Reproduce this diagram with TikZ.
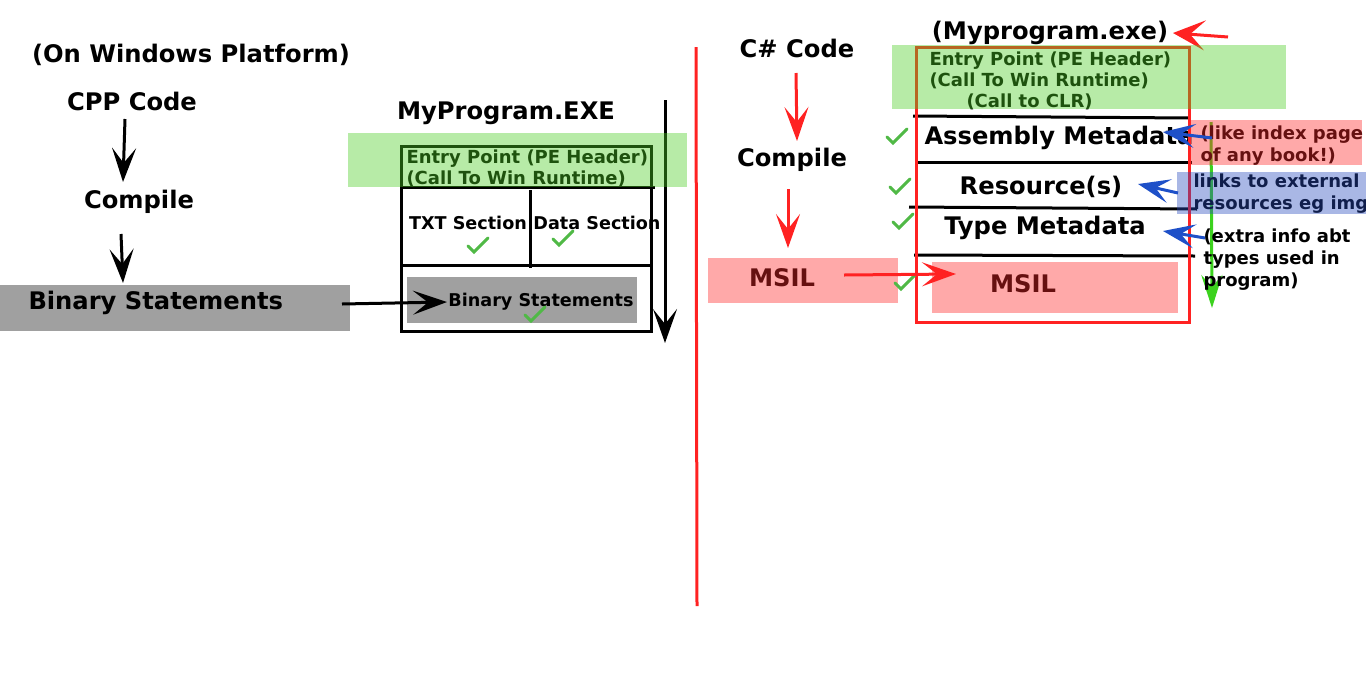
\documentclass[tikz,border=0pt]{standalone}
\usepackage{fontspec}
\setmainfont{DejaVu Sans}
\usepackage{tikz}
\usetikzlibrary{arrows.meta}

\definecolor{divred}{RGB}{255,34,34}
\definecolor{okgreen}{RGB}{80,185,70}
\definecolor{bandgreen}{RGB}{75,205,35}
\definecolor{bandred}{RGB}{255,40,40}
\definecolor{bandblue}{RGB}{40,75,190}
\definecolor{binfill}{RGB}{160,160,160}
\definecolor{arrblue}{RGB}{30,80,200}
\definecolor{arrgreen}{RGB}{60,210,30}

\tikzset{
  okmark/.pic={\draw[okgreen, line width=1.5pt, line cap=round] (-10,0) -- (-4,6) -- (10,-8);},
  barbed/.style={-{Stealth[length=17pt, width=12pt, inset=7.5pt]}},
}

\begin{document}
\begin{tikzpicture}[x=0.5pt, y=-0.5pt, line width=1.5pt,
  every node/.style={inner sep=0pt, font=\bfseries\fontsize{12.1}{14.5}\selectfont},
  smalltxt/.style={font=\bfseries\fontsize{9}{10.5}\selectfont, align=left},
  notetxt/.style={font=\bfseries\fontsize{9}{11}\selectfont, align=left},
  secttxt/.style={font=\bfseries\fontsize{8.8}{10}\selectfont},
  greenband/.style={fill=bandgreen, fill opacity=0.4},
  redband/.style={fill=bandred, fill opacity=0.4},
  blueband/.style={fill=bandblue, fill opacity=0.4},
  redarr/.style={barbed, draw=divred},
  bluearr/.style={-{Stealth[length=16pt, width=12pt, inset=7pt]}, draw=arrblue},
  greenarr/.style={-{Stealth[length=16.5pt, width=10.5pt, inset=6pt]}, draw=arrgreen}]
\useasboundingbox (0,0) rectangle (1366,697);

% native code side
\coordinate (A) at (125,119);
\coordinate (B) at (123,182);
\coordinate (C) at (121,234);
\coordinate (D) at (123,283);
\coordinate (E) at (342,304);
\coordinate (F) at (447,302);
\coordinate (G) at (665,100);
\coordinate (H) at (665,343);

\node (win) at (191,55) {(On Windows Platform)};
\node (cpp) at (132,101) {CPP Code};
\node (cmpL) at (139,202) {Compile};
\draw[barbed] (A) -- (B);
\draw[barbed] (C) -- (D);
\fill[binfill] (0,285) rectangle (350,331);
\node[anchor=west] (binL) at (27,303) {Binary Statements};

\node (exeL) at (506,113) {MyProgram.EXE};
\fill[binfill] (407,277) rectangle (637,323);
\draw (401,146) rectangle (651,331);
\draw (401,187) -- (655,187);
\draw (401,265) -- (651,265);
\draw (530,190) -- (530,268);
\node[smalltxt, anchor=west] (entL) at (405,168) {Entry Point (PE Header)\\(Call To Win Runtime)};
\node[secttxt] (txt) at (468,223) {TXT Section};
\node[secttxt] (dat) at (597,223) {Data Section};
\node[secttxt] (binS) at (541,302) {Binary Statements};
\pic at (478,246) {okmark};
\pic at (563,239) {okmark};
\pic at (535,315) {okmark};
\draw[barbed] (E) -- (F);
\draw[barbed] (G) -- (H);
\fill[greenband] (348,133) rectangle (687,187);

\draw[divred] (696,47) -- (697,606);

% managed code side
\coordinate (P) at (796,73);
\coordinate (Q) at (797,141);
\coordinate (R) at (788,189);
\coordinate (S) at (788,248);
\coordinate (T) at (844,275);
\coordinate (U) at (956,274);
\coordinate (V) at (1228,37);
\coordinate (W) at (1173,33);
\coordinate (X) at (1211,122);
\coordinate (Y) at (1212,308);

\node (cs) at (797,48) {C\# Code};
\node (cmpR) at (792,160) {Compile};
\draw[redarr] (P) -- (Q);
\draw[redarr] (R) -- (S);
\node (msilL) at (782,278) {MSIL};
\fill[redband] (708,258) rectangle (898,303);

\node (exeR) at (1050,33) {(Myprogram.exe)};
\node[anchor=west] (asm) at (923,138) {Assembly Metadata};
\node (res) at (1041,187) {Resource(s)};
\node (typ) at (1045,228) {Type Metadata};
\node (msilR) at (1023,284) {MSIL};
\fill[redband] (932,262) rectangle (1178,313);
\draw (913,116) -- (1190,118);
\draw (916,162) -- (1192,162);
\draw (909,207) -- (1197,209);
\draw (914,255) -- (1195,256);
\draw[divred] (916,47) rectangle (1189,322);
\node[smalltxt, anchor=west] (entR) at (928,81) {Entry Point (PE Header)\\(Call To Win Runtime)\\\hspace*{18.5pt}(Call to CLR)};
\pic at (897,137) {okmark};
\pic at (900,187) {okmark};
\pic at (903,222) {okmark};
\pic at (905,283) {okmark};
\draw[redarr] (T) -- (U);
\draw[-{Stealth[length=16pt, width=15pt, inset=7.5pt]}, divred] (V) -- (W);
\fill[greenband] (892,45) rectangle (1286,109);

\draw[greenarr] (X) -- (Y);
\node[notetxt, anchor=west] (idx) at (1199,146) {(like index page\\of any book!)};
\node[notetxt, anchor=west] (lnk) at (1192,194) {links to external\\resources eg img};
\node[notetxt, anchor=west] (xtr) at (1202,260) {(extra info abt\\types used in\\program)};
\fill[redband] (1190,120) rectangle (1362,165);
\fill[blueband] (1177,172) rectangle (1366,214);
\draw[bluearr] (1212,138) -- (1163,132);
\draw[bluearr] (1178,193) -- (1138,184);
\draw[bluearr] (1205,238) -- (1163,231);
\end{tikzpicture}
\end{document}
